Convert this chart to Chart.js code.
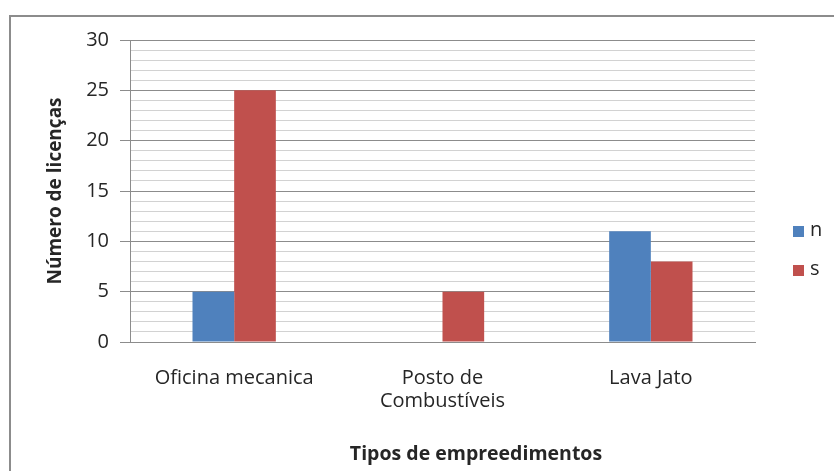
<!DOCTYPE html>
<html>
<head>
<meta charset="utf-8">
<script src="https://cdn.jsdelivr.net/npm/chart.js@4.4.1/dist/chart.umd.min.js"></script>
<style>
  html, body { margin: 0; padding: 0; background: #fff; overflow: hidden; }
  #wrap { position: relative; width: 834px; height: 471px; }
  #frame { position: absolute; left: 9px; top: 15px; width: 900px; height: 520px; border: 2px solid #8c8c8c; box-sizing: border-box; }
  #chart { position: absolute; left: 0; top: 0; }
</style>
</head>
<body>
<div id="wrap">
  <div id="frame"></div>
  <canvas id="chart" width="834" height="471"></canvas>
</div>
<script>
// dados
const categories = ['Oficina mecanica', ['Posto de', 'Combustíveis'], 'Lava Jato']
const seriesNames = ['n', 's']
const valuesN = [5, 0, 11]
const valuesS = [25, 5, 8]
const yMajorTicks = [0, 5, 10, 15, 20, 25, 30]
const xTitle = 'Tipos de empreedimentos'
const yTitle = 'Número de licenças'

const fontFamily = '"Open Sans", sans-serif'
const textColor = '#262626'
const majorGrid = '#8c8c8c'
const minorGrid = '#d2d2d2'

// legenda à direita, desenhada a partir dos datasets
const sideLegend = {
    id: 'sideLegend',
    afterDraw: chart => {
        const ctx = chart.ctx
        ctx.save()
        ctx.font = `20px ${fontFamily}`
        ctx.textBaseline = 'middle'
        chart.data.datasets.forEach((ds, i) => {
            let y = 231.5 + i * 39
            ctx.fillStyle = ds.backgroundColor
            ctx.fillRect(793, y - 5.5, 11, 11)
            ctx.fillStyle = textColor
            ctx.fillText(ds.label, 810, y - 1)
        })
        ctx.restore()
    }
}

// título do eixo x, centrado no quadro (não na área do gráfico)
const bottomTitle = {
    id: 'bottomTitle',
    afterDraw: chart => {
        const ctx = chart.ctx
        ctx.save()
        ctx.font = `bold 19.5px ${fontFamily}`
        ctx.fillStyle = textColor
        ctx.textAlign = 'center'
        ctx.textBaseline = 'middle'
        ctx.fillText(xTitle, 476, 454)
        ctx.restore()
    }
}

new Chart(document.getElementById('chart'), {
    type: 'bar',
    data: {
        labels: categories,
        datasets: [
            { label: seriesNames[0], data: valuesN, backgroundColor: '#4f81bd' },
            { label: seriesNames[1], data: valuesS, backgroundColor: '#c0504d' }
        ]
    },
    options: {
        responsive: false,
        animation: false,
        devicePixelRatio: 1,
        layout: { padding: { left: 44, top: 40, right: 79, bottom: 0 } },
        datasets: { bar: { categoryPercentage: 0.4, barPercentage: 1.0 } },
        plugins: {
            legend: { display: false },
            tooltip: { enabled: false }
        },
        scales: {
            x: {
                grid: { display: false, drawTicks: false },
                border: { color: majorGrid },
                ticks: {
                    padding: 25,
                    maxRotation: 0,
                    color: textColor,
                    font: { family: fontFamily, size: 20, lineHeight: 1.15 }
                },
                afterFit: s => { s.height = 129 }
            },
            y: {
                min: 0,
                max: 30,
                border: { color: majorGrid },
                grid: {
                    tickLength: 10,
                    color: c => yMajorTicks.includes(c.tick.value) ? majorGrid : minorGrid,
                    tickColor: c => yMajorTicks.includes(c.tick.value) ? majorGrid : 'rgba(0,0,0,0)'
                },
                ticks: {
                    stepSize: 1,
                    autoSkip: false,
                    padding: 11,
                    color: textColor,
                    font: { family: fontFamily, size: 20 },
                    callback: v => yMajorTicks.includes(v) ? v : ''
                },
                title: {
                    display: true,
                    text: yTitle,
                    color: textColor,
                    padding: 0,
                    font: { family: fontFamily, size: 19, weight: 'bold' }
                },
                afterFit: s => { s.width = 86 }
            }
        }
    },
    plugins: [sideLegend, bottomTitle]
})
</script>
</body>
</html>
